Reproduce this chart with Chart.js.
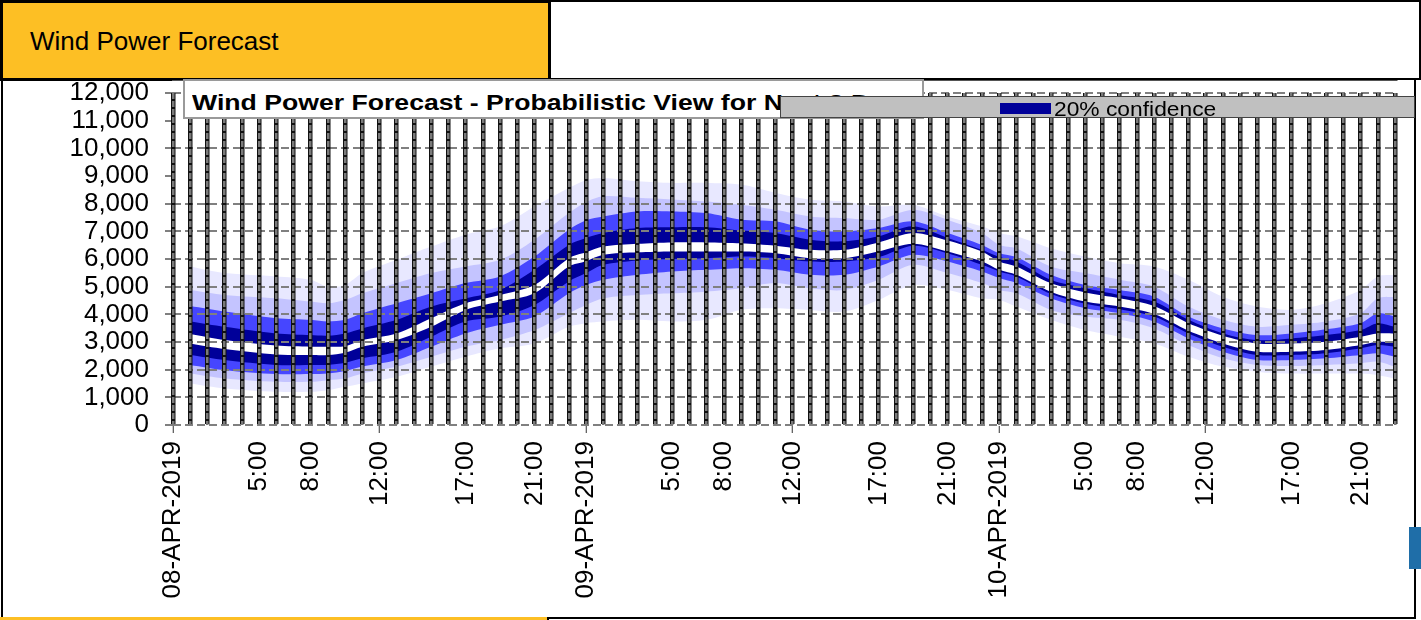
<!DOCTYPE html>
<html>
<head>
<meta charset="utf-8">
<title>Wind Power Forecast</title>
<script src="https://cdn.jsdelivr.net/npm/chart.js@4.4.1/dist/chart.umd.min.js"></script>
<style>
  body { margin: 0; background: #fff; font-family: "Liberation Sans", Arial, sans-serif; }
  #page { position: relative; width: 1421px; height: 620px; overflow: hidden; }
  .box { position: absolute; box-sizing: border-box; }
  #hdr { left: 0; top: 0; width: 551px; height: 81px; background: #fdbf24; border: 3px solid #000; }
  #hdr span { position: absolute; left: 27px; top: 25px; font-size: 26px; line-height: 26px; color: #000; white-space: nowrap; }
  #hdrRight { left: 548px; top: 0; width: 873px; height: 80px; border: 2px solid #000; border-left: none; }
  #frame { left: 1px; top: 78px; width: 1415px; height: 541px; border: 2px solid #000; }
  #foot { left: 0; top: 617px; width: 549px; height: 3px; background: #fdbf24; border-right: 2px solid #000; }
  #sideBtn { left: 1409px; top: 527px; width: 12px; height: 42px; background: #1f6ea8; }
  #chartWrap { position: absolute; left: 0; top: 80px; }
  #titleBox { left: 183px; top: 79px; width: 741px; height: 40px; background: #fff; border: 2px solid #9a9a9a; overflow: hidden; }
  #titleBox span { position: absolute; left: 7px; top: 11px; font-size: 22px; line-height: 22px; font-weight: bold; white-space: nowrap; transform: scaleX(1.21); transform-origin: left top; }
  #legendBox { left: 780px; top: 96px; width: 635px; height: 22px; background: #c0c0c0; border: 1px solid #444; overflow: hidden; }
  #legendBox .swatch { position: absolute; left: 219px; top: 6px; width: 51px; height: 11px; background: #000099; }
  #legendBox .txt { position: absolute; left: 273px; top: 2px; font-size: 20px; line-height: 20px; white-space: nowrap; transform: scaleX(1.14); transform-origin: left top; }
</style>
</head>
<body>
<div id="page">
  <div class="box" id="frame"></div>
  <div class="box" id="hdr"><span>Wind Power Forecast</span></div>
  <div class="box" id="hdrRight"></div>
  <div id="chartWrap"><canvas id="forecastChart" width="1421" height="537"></canvas></div>
  <div class="box" id="titleBox"><span>Wind Power Forecast - Probabilistic View for Next 3 Days</span></div>
  <div class="box" id="legendBox"><div class="swatch"></div><div class="txt">20% confidence</div></div>
  <div class="box" id="foot"></div>
  <div class="box" id="sideBtn"></div>
</div>
<script>
// ===== Data (hours from 08-APR-2019 00:00, MW) =====
const hours = [1, 3, 6, 8, 9, 10, 11, 13, 15, 17, 19, 21, 23,
               24, 25, 27, 29, 31, 33, 35, 37, 39, 41, 43, 45, 47,
               48, 49, 51, 53, 55, 57, 59, 61, 63, 65, 67, 69, 70, 71];

// outer band edges (lightest)
const q95 = [5730, 5490, 5370, 5250, 5000, 5060, 5490, 5970, 6450, 6880, 7180, 7900, 8570,
             8850, 8930, 8810, 8750, 8750, 8690, 8390, 8150, 8080, 7900, 7960, 7540, 7180,
             6940, 6820, 6390, 6090, 5850, 5730, 5250, 4640, 4280, 4160, 4400, 4880, 5370, 5430];
const q05 = [1500, 1320, 1200, 1200, 1260, 1380, 1500, 1740, 2110, 2470, 2770, 2950, 3550,
             3680, 3740, 3800, 3740, 3800, 4160, 4220, 4160, 4100, 4520, 5060, 4880, 4580,
             4520, 4280, 3800, 3430, 3190, 2950, 2470, 2110, 1920, 1860, 1860, 1860, 1800, 1680];

const q90 = [4880, 4700, 4580, 4460, 4400, 4520, 4760, 5130, 5490, 5730, 5970, 6700, 7660,
             8060, 8270, 8210, 8150, 8080, 7960, 7780, 7540, 7480, 7420, 7780, 7420, 6940,
             6510, 6390, 5730, 5490, 5250, 5000, 4280, 3800, 3550, 3620, 3740, 4040, 4580, 4640];
const q10 = [1860, 1680, 1560, 1560, 1620, 1680, 1860, 2110, 2470, 2830, 3070, 3430, 4040,
             4340, 4580, 4700, 4760, 4820, 4940, 5130, 4940, 4880, 5250, 5790, 5490, 5130,
             4880, 4760, 4160, 3920, 3800, 3490, 2890, 2410, 2170, 2130, 2170, 2230, 2290, 2110];

const q80 = [4300, 4100, 3860, 3800, 3740, 3800, 4040, 4400, 4760, 5130, 5370, 6090, 7060,
             7400, 7540, 7720, 7720, 7660, 7420, 7360, 7060, 7000, 7120, 7360, 6940, 6510,
             6210, 6070, 5430, 5060, 4880, 4640, 3920, 3490, 3250, 3310, 3460, 3680, 4040, 3920];
const q20 = [2170, 1980, 1840, 1840, 1860, 1950, 2110, 2350, 2830, 3310, 3620, 3920, 4760,
             5060, 5250, 5430, 5550, 5610, 5670, 5610, 5430, 5430, 5730, 6150, 5910, 5550,
             5310, 5130, 4580, 4220, 4040, 3740, 3130, 2650, 2350, 2350, 2410, 2530, 2590, 2470];

const q70 = [3740, 3550, 3310, 3250, 3230, 3310, 3490, 3800, 4280, 4580, 4880, 5610, 6510,
             6760, 6940, 7120, 7150, 7150, 7030, 6940, 6700, 6640, 6820, 7180, 6760, 6330,
             6070, 5910, 5250, 4940, 4700, 4460, 3800, 3310, 3070, 3130, 3250, 3430, 3680, 3550];
const q30 = [2530, 2350, 2170, 2170, 2170, 2250, 2410, 2650, 3190, 3740, 3920, 4340, 5190,
             5490, 5790, 5950, 6000, 6030, 6090, 6030, 5910, 5910, 6070, 6480, 6210, 5790,
             5550, 5370, 4740, 4380, 4180, 3920, 3310, 2830, 2530, 2530, 2590, 2770, 2890, 2830];

// inner band edges (white)
const q60 = [3290, 3070, 2870, 2830, 2830, 2850, 3070, 3310, 3860, 4400, 4700, 5060, 6030,
             6240, 6450, 6550, 6600, 6600, 6570, 6480, 6330, 6330, 6600, 6940, 6670, 6270,
             5910, 5730, 5130, 4790, 4580, 4300, 3680, 3230, 2950, 2950, 3010, 3190, 3310, 3310];
const q40 = [2950, 2750, 2550, 2530, 2530, 2610, 2830, 3070, 3550, 4160, 4460, 4760, 5730,
             5920, 6150, 6240, 6270, 6270, 6270, 6210, 6030, 6030, 6270, 6550, 6270, 5910,
             5610, 5430, 4820, 4460, 4280, 4010, 3410, 2950, 2650, 2650, 2710, 2890, 3010, 2980];

// x axis labels
const tickHours = [0, 5, 8, 12, 17, 21, 24, 29, 32, 36, 41, 45, 48, 53, 56, 60, 65, 69];
const tickLabels = ["08-APR-2019", "5:00", "8:00", "12:00", "17:00", "21:00",
                    "09-APR-2019", "5:00", "8:00", "12:00", "17:00", "21:00",
                    "10-APR-2019", "5:00", "8:00", "12:00", "17:00", "21:00"];

// y values with no grid line in the original
const hiddenGrid = [9000, 11000];

// ===== Build datasets =====
const FONT = "'Liberation Sans', Arial, sans-serif";

function pts(values) {
    return values.map((v, i) => ({ x: hours[i], y: v }));
}

// inner band first so it is painted last (on top)
const bands = [
    { hi: q60, lo: q40, color: "#ffffff" },
    { hi: q70, lo: q30, color: "#000099" },
    { hi: q80, lo: q20, color: "#4646ff" },
    { hi: q90, lo: q10, color: "#c4c4ff" },
    { hi: q95, lo: q05, color: "#e8e8ff" }
];

const datasets = [];
bands.forEach((b) => {
    const idx = datasets.length;
    datasets.push({ data: pts(b.hi), fill: idx + 1, backgroundColor: b.color, borderWidth: 0, pointRadius: 0 });
    datasets.push({ data: pts(b.lo), fill: false, borderWidth: 0, pointRadius: 0 });
});

// fixed axis boxes, no automatic label padding
function fixBox(w, h) {
    return (s) => {
        if (w !== null) s.width = w;
        if (h !== null) s.height = h;
        s.paddingTop = 0;
        s.paddingBottom = 0;
        s.paddingLeft = 0;
        s.paddingRight = 0;
    };
}

// ===== Chart =====
const ctx = document.getElementById("forecastChart").getContext("2d");
new Chart(ctx, {
    type: "line",
    data: { datasets: datasets },
    options: {
        responsive: false,
        animation: false,
        layout: { padding: { top: 13, right: 26, left: 0, bottom: 0 } },
        plugins: {
            legend: { display: false },
            tooltip: { enabled: false }
        },
        elements: { line: { tension: 0.3 } },
        scales: {
            x: {
                type: "linear",
                min: 0,
                max: 71,
                afterFit: fixBox(null, 192),
                ticks: {
                    stepSize: 1,
                    autoSkip: false,
                    minRotation: 90,
                    maxRotation: 90,
                    padding: 8,
                    color: "#000",
                    font: { family: FONT, size: 26 },
                    callback: (v) => {
                        const i = tickHours.indexOf(v);
                        return i >= 0 ? tickLabels[i] : "";
                    }
                },
                grid: {
                    color: "#111",
                    lineWidth: 4.5,
                    z: 2,
                    tickLength: 8,
                    tickWidth: 1,
                    tickColor: (c) => (c.tick && c.tick.value % 12 === 0) ? "#333" : "rgba(0,0,0,0)"
                },
                border: { display: true, color: "#555", width: 2 }
            },
            x2: {
                type: "linear",
                position: "bottom",
                min: 0,
                max: 71,
                afterFit: fixBox(null, 0),
                ticks: { display: false, stepSize: 1 },
                grid: { color: "#7a7a7a", lineWidth: 2.5, z: 3, drawTicks: false },
                border: { display: false, dash: [6, 2] }
            },
            y: {
                min: 0,
                max: 12000,
                afterFit: fixBox(173, null),
                ticks: {
                    stepSize: 1000,
                    autoSkip: false,
                    padding: 16,
                    color: "#000",
                    font: { family: FONT, size: 26 },
                    callback: (v) => v.toLocaleString("en-US")
                },
                grid: {
                    color: (c) => (c.tick && hiddenGrid.includes(c.tick.value)) ? "rgba(0,0,0,0)" : "#808080",
                    lineWidth: 2,
                    z: 1,
                    tickLength: 8,
                    tickWidth: 1,
                    tickColor: "#000"
                },
                border: { display: false, dash: [8, 4] }
            }
        }
    }
});
</script>
</body>
</html>
